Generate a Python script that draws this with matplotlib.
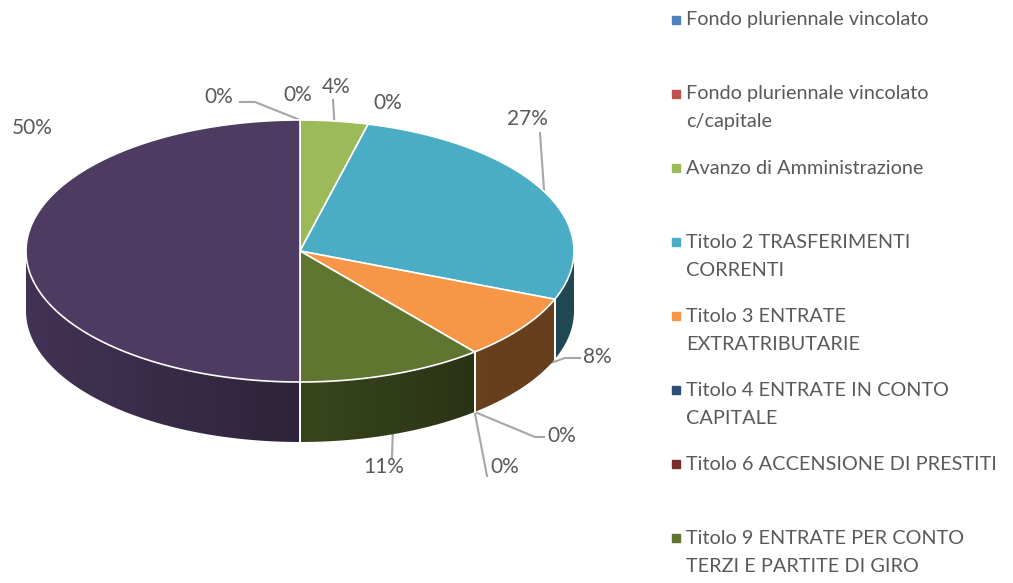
import numpy as np
import matplotlib.pyplot as plt
from matplotlib.patches import Polygon
from matplotlib.colors import to_rgb

# Slice data (clockwise from 12 o'clock)
values = [0, 0, 4, 0, 27, 8, 0, 0, 11, 50]
colors = ['#4F81BD', '#C0504D', '#9BBB59', '#8064A2', '#4BACC6',
          '#F79646', '#2C4D75', '#772C2A', '#5F7530', '#4D3B62']
pct_labels = ['0%', '0%', '4%', '0%', '27%', '8%', '0%', '0%', '11%', '50%']

legend_labels = ['Fondo pluriennale vincolato',
                 'Fondo pluriennale vincolato\nc/capitale',
                 'Avanzo di Amministrazione',
                 'Titolo 2 TRASFERIMENTI\nCORRENTI',
                 'Titolo 3 ENTRATE\nEXTRATRIBUTARIE',
                 'Titolo 4 ENTRATE IN CONTO\nCAPITALE',
                 'Titolo 6 ACCENSIONE DI PRESTITI',
                 'Titolo 9 ENTRATE PER CONTO\nTERZI E PARTITE DI GIRO']
legend_colors = ['#4F81BD', '#C0504D', '#9BBB59', '#4BACC6',
                 '#F79646', '#2C4D75', '#772C2A', '#5F7530']

plt.rcParams['font.family'] = ['Lato', 'DejaVu Sans']
TXT = '#595959'

fig = plt.figure(figsize=(10.13, 5.83), dpi=100)
ax = fig.add_axes([0, 0, 1, 1])
ax.set_xlim(0, 1013)
ax.set_ylim(583, 0)
ax.axis('off')

# pie geometry (pixel space)
cx, cy, rx, ry, depth = 300, 251, 274, 131, 60


def rim(t, d=0.0):
    r = np.radians(t)
    return cx + rx * np.cos(r), cy - ry * np.sin(r) + d * depth


# slice angle ranges
total = sum(values)
ranges = []
theta = 90.0
for v in values:
    t2 = theta - 360.0 * v / total
    ranges.append((t2, theta))
    theta = t2

# side shading: lighter on the left, darker towards the right
xs = np.linspace(cx - rx, cx + rx, 400)
fac = np.maximum(0.6 - 0.26 * (xs - cx) / rx, 0.42)

# sides (visible front half: angles between -180 and 0)
for (a, b), c in zip(ranges, colors):
    for off in (0, -360, 360):
        lo, hi = max(a + off, -180), min(b + off, 0)
        if hi <= lo:
            continue
        ts = np.linspace(lo, hi, 200)
        pts = [rim(t) for t in ts] + [rim(t, 1) for t in ts[::-1]]
        poly = Polygon(pts, closed=True, fc='none', ec='none')
        ax.add_patch(poly)
        img = (np.array(to_rgb(c))[None, None, :] * fac[None, :, None])
        im = ax.imshow(np.clip(img, 0, 1), extent=(cx - rx, cx + rx, cy + ry + depth + 2, cy - 2),
                       aspect='auto', interpolation='bilinear', zorder=1)
        im.set_clip_path(poly)
        for s in (lo, hi):
            if -180 < s < 0:
                x0, y0 = rim(s)
                x1, y1 = rim(s, 1)
                ax.plot([x0, x1], [y0, y1], color='white', lw=1.2, zorder=1.5)

ax.set_xlim(0, 1013)
ax.set_ylim(583, 0)

# top faces
for (a, b), c in zip(ranges, colors):
    if b - a <= 0:
        continue
    ts = np.linspace(b, a, max(int(b - a) * 2, 4))
    pts = [(cx, cy)] + [rim(t) for t in ts]
    ax.add_patch(Polygon(pts, closed=True, fc=c, ec='white', lw=1.2, zorder=2))

# percentage labels: text x, text y, ha, leader points (before the rim anchor), anchor depth
label_pos = [
    (233, 97, 'right', [(240, 102), (255, 102)], 0.0),
    (298, 95, 'center', None, None),
    (336, 87, 'center', [(333, 100)], 0.0),
    (388, 103, 'center', None, None),
    (527, 119, 'center', [(540, 133)], 0.0),
    (583, 357, 'left', [(580, 358), (565, 358)], 0.75),
    (547, 436, 'left', [(544, 437), (535, 437)], 1.0),
    (490, 467, 'left', [(487, 476)], 1.0),
    (384, 467, 'center', [(392, 458)], 0.95),
    (32, 128, 'center', None, None),
]
for i, (lab, (tx, ty, ha, pts, d)) in enumerate(zip(pct_labels, label_pos)):
    ax.text(tx, ty, lab, ha=ha, va='center', fontsize=15, color=TXT)
    if pts is None:
        continue
    a, b = ranges[i]
    axx, ayy = rim((a + b) / 2, d)
    lx = [p[0] for p in pts] + [axx]
    ly = [p[1] for p in pts] + [ayy]
    ax.plot(lx, ly, color='#A6A6A6', lw=1.5, zorder=0.5)

# legend
for i, (lab, c) in enumerate(zip(legend_labels, legend_colors)):
    y = 20 + 74 * i
    ax.plot(676, y, marker='s', ms=6, color=c, mec=c)
    for k, line in enumerate(lab.split('\n')):
        ax.text(686, y + 28 * k, line, ha='left', va='center', fontsize=14.3, color=TXT)

fig.savefig('out.png', dpi=100, facecolor='white')
